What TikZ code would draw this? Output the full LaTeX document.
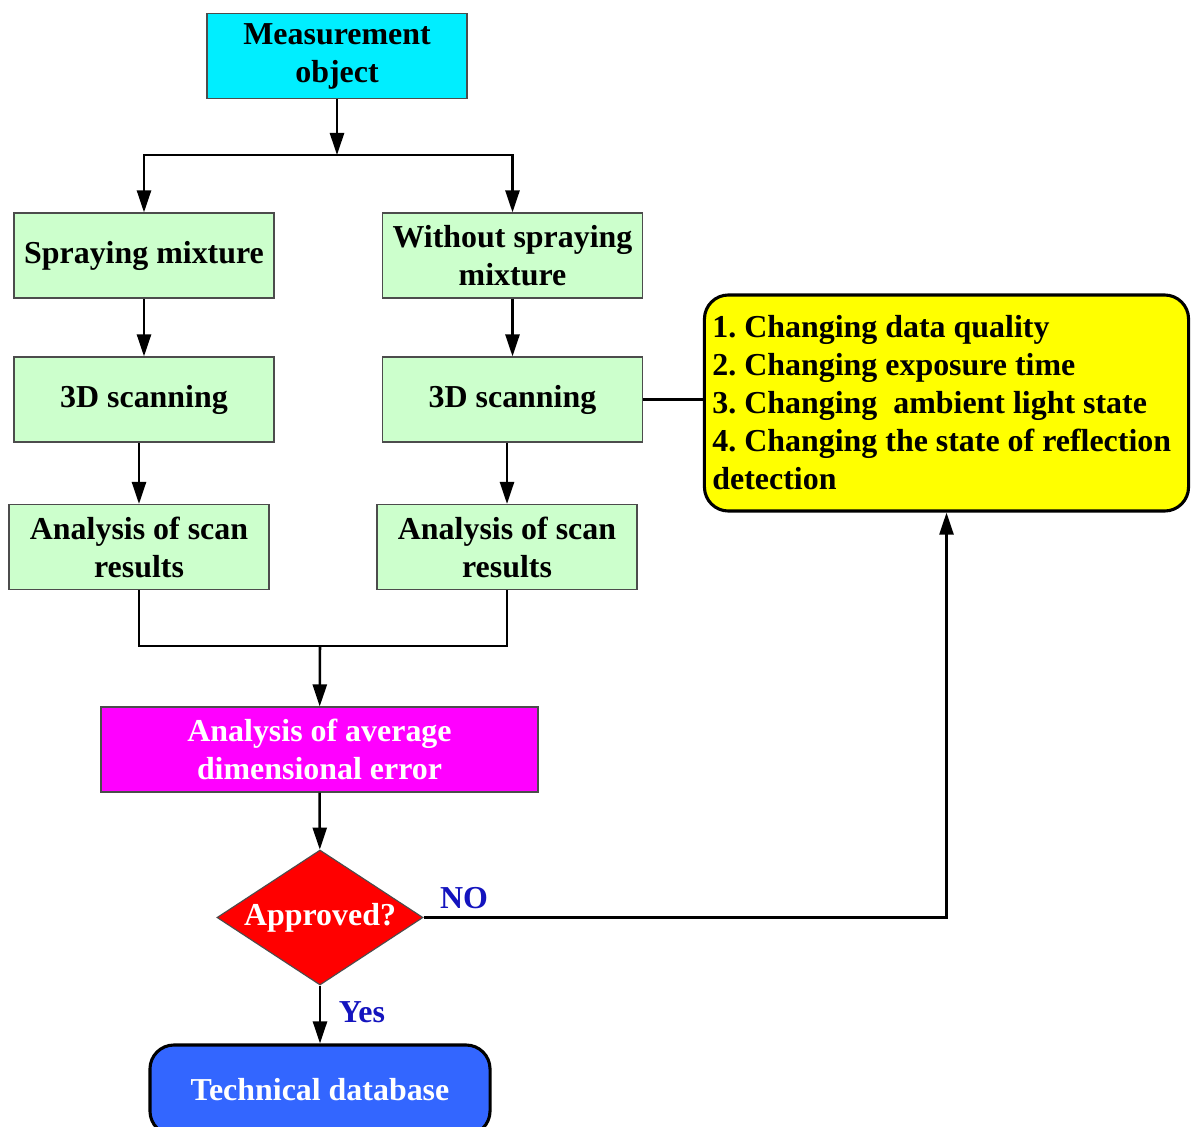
\documentclass[tikz,border=0pt]{standalone}
\usepackage{fontspec}
\setmainfont{Liberation Serif}
\usepackage{tikz}
\usetikzlibrary{shapes.geometric,arrows.meta}
\definecolor{objcyan}{RGB}{0,238,255}
\definecolor{stepgreen}{RGB}{204,255,204}
\definecolor{avgmagenta}{RGB}{255,0,255}
\definecolor{checkred}{RGB}{255,0,0}
\definecolor{dbblue}{RGB}{51,102,255}
\definecolor{optyellow}{RGB}{255,255,0}
\definecolor{lblblue}{RGB}{20,20,190}
\frenchspacing
\tikzstyle{bigfont} = [font=\bfseries\fontsize{22.7}{27}\selectfont]
\tikzstyle{stepbox} = [bigfont, draw=black!70, line width=0.8pt, fill=stepgreen,
    rectangle, minimum width=6.5cm, minimum height=2.125cm, align=center, inner sep=2pt]
\tikzstyle{roundbox} = [bigfont, draw=black, line width=2.2pt, rectangle,
    rounded corners=0.6cm, align=center]
\tikzstyle{arr} = [line width=1.8pt, -{Triangle[length=0.55cm,width=0.35cm]}]
\tikzstyle{link} = [line width=1.8pt]
\tikzstyle{lbl} = [bigfont, text=lblblue]

\begin{document}
\begin{tikzpicture}[x=0.025cm, y=-0.025cm]
    \useasboundingbox (0,0) rectangle (1191,1126);
    % boxes
    \node [stepbox, fill=objcyan] (meas) at (337,56) {Measurement\\object};
    \node [stepbox] (spray) at (144,255.5) {Spraying mixture};
    \node [stepbox] (nospray) at (512.5,255.5) {Without spraying\\mixture};
    \node [stepbox] (scan1) at (144,399.5) {3D scanning};
    \node [stepbox] (scan2) at (512.5,399.5) {3D scanning};
    \node [stepbox] (ana1) at (139,547) {Analysis of scan\\results};
    \node [stepbox] (ana2) at (507,547) {Analysis of scan\\results};
    \node [stepbox, fill=avgmagenta, text=white, minimum width=10.925cm] (avg) at (319.5,749.5)
        {Analysis of average\\dimensional error};
    \node [bigfont, diamond, draw=black!70, line width=0.8pt, fill=checkred, text=white,
        inner sep=0pt, aspect=1.526, minimum width=5.15cm, minimum height=3.375cm]
        (check) at (320,917.5) {Approved?};
    \node [roundbox, fill=dbblue, text=white, minimum width=8.5cm, minimum height=2.25cm]
        (db) at (320,1090) {Technical database};
    \node [roundbox, fill=optyellow, align=flush left, text width=11.7cm, inner xsep=0.2cm,
        minimum height=5.4cm] (opts) at (946.5,403)
        {1. Changing data quality\\2. Changing exposure time\\3. Changing\ \ ambient light state\\
         4. Changing the state of reflection\\detection};

    % connectors
    \coordinate (split) at (337,155);
    \coordinate (join) at (320,646);
    \draw[arr] (meas) -- (split);
    \draw[arr] (split) -| (spray);
    \draw[arr] (split) -| (nospray);
    \draw[arr] (spray) -- (scan1);
    \draw[arr] (nospray) -- (scan2);
    \draw[arr] (scan1.south -| ana1) -- (ana1);
    \draw[arr] (scan2.south -| ana2) -- (ana2);
    \draw[link] (ana1) |- (join) -| (ana2);
    \draw[arr] (join) -- (avg);
    \draw[arr] (avg) -- (check);
    \draw[arr] (check) -- (db);
    \draw[arr] (check) -| (opts);
    \draw[link] (scan2.east) -- (scan2.east -| opts.west);

    % labels
    \node [lbl] (no) at (464,898) {NO};
    \node [lbl] (yes) at (362,1012) {Yes};
\end{tikzpicture}
\end{document}
